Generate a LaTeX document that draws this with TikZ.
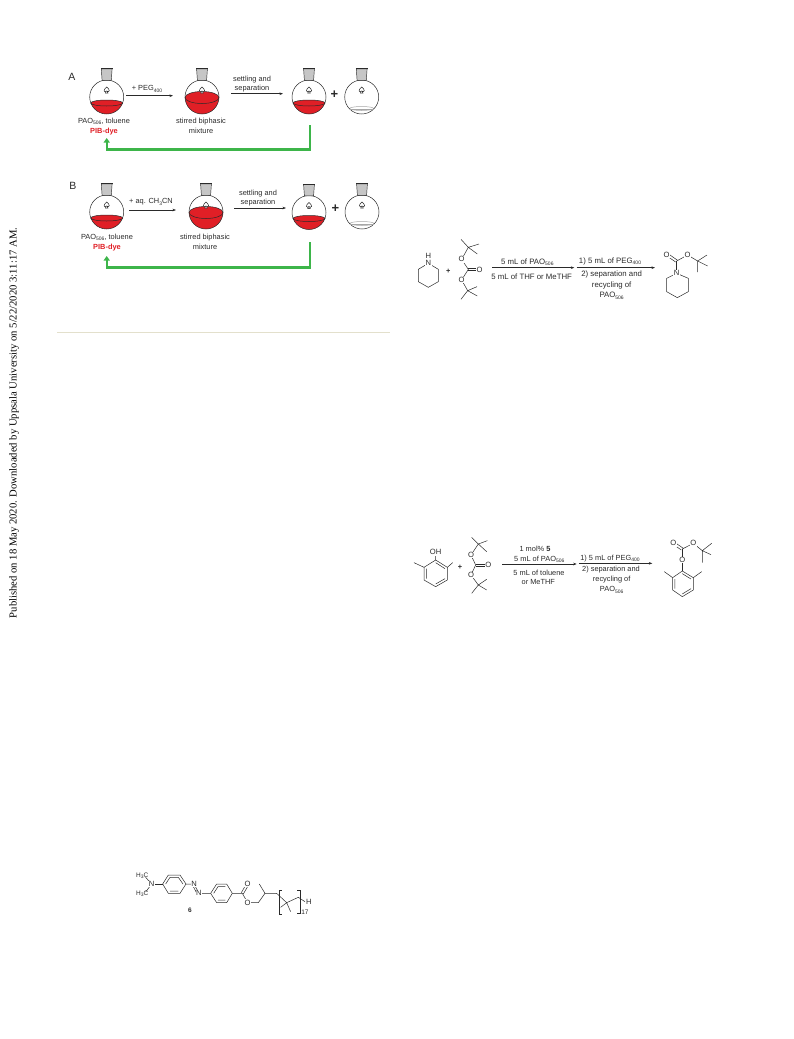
\documentclass[tikz,border=0pt]{standalone}
\usepackage{fontspec}
\setmainfont{Liberation Sans}
\newfontfamily\sidefont{Liberation Serif}
\usetikzlibrary{arrows.meta}
\definecolor{dyered}{HTML}{E01F26}
\definecolor{recyc}{HTML}{3DB54A}
\definecolor{rulecol}{HTML}{E3E0CC}
\definecolor{inkc}{HTML}{2A2A2A}
\newcommand{\sbs}[1]{\raisebox{-1.3pt}{\fontsize{5}{5}\selectfont #1}}
\tikzset{
  lbl/.style={font=\fontsize{7.4}{8}\selectfont,text=inkc,inner sep=0pt},
  lblb/.style={font=\fontsize{7.8}{8}\selectfont,text=inkc,inner sep=0pt},
  atom/.style={font=\fontsize{7.6}{8}\selectfont,text=inkc,inner sep=0.6pt,fill=white},
  redlbl/.style={font=\fontsize{7.4}{8}\selectfont\bfseries,text=dyered,inner sep=0pt},
  panel/.style={font=\fontsize{10.5}{11}\selectfont,text=inkc,inner sep=0pt},
  bigplus/.style={font=\fontsize{13}{13}\selectfont\bfseries,text=inkc,inner sep=0pt},
  rxn/.style={draw=inkc,line width=0.55pt,-{Stealth[length=3.5pt,width=2.6pt]}},
  loopback/.style={draw=recyc,line width=2.4pt,-{Triangle[length=4.5pt,width=6pt]}},
  bond/.style={draw=inkc,line width=0.5pt},
  glass/.style={draw=inkc,line width=0.5pt},
  pale/.style={draw=gray!70,line width=0.5pt},
  pics/flask/.style n args={5}{code={
    % #1 chord offset, #2 half width, #3 ellipse ry, #4 liquid colour, #5 ellipse line style
    \fill[white] (0,0) circle (17);
    \begin{scope}
      \clip (0,0) circle (17);
      \fill[#4] (-20,#1) rectangle (20,20);
      \fill[#4] (0,#1) ellipse (#2 and #3);
    \end{scope}
    \draw[#5] (0,#1) ellipse (#2 and #3);
    \draw[glass] (0,0) circle (17);
    \fill[gray!45,draw=inkc,line width=0.45pt] (-4.6,-16.6) -- (-5.4,-28) -- (5.4,-28) -- (4.6,-16.6) -- cycle;
    \draw[inkc,line width=0.7pt] (-5.8,-28.6) -- (5.8,-28.6);
    \draw[glass,fill=white] (0,-10) .. controls (-1,-8.6) and (-3,-8) .. (-2.6,-6.2)
        .. controls (-2.3,-5) and (-1,-5) .. (-0.5,-5.8) -- (-1.2,-4) -- (1.2,-4) -- (0.5,-5.8)
        .. controls (1,-5) and (2.3,-5) .. (2.6,-6.2) .. controls (3,-8) and (1,-8.6) .. (0,-10) -- cycle;
  }}
}
\begin{document}
\begin{tikzpicture}[x=1pt,y=-1pt]
\useasboundingbox (0,0) rectangle (793,1039);
\node[rotate=90,font=\sidefont\fontsize{10.65}{11}\selectfont,text=black,inner sep=0pt] (side) at (14,423) {Published on 18 May 2020. Downloaded by Uppsala University on 5/22/2020 3:11:17 AM.};

% ---- panel A
\node[panel] (pa) at (72,77) {A};
\pic at (106.7,97) {flask={6}{16}{3}{dyered}{glass}};
\pic at (202,97) {flask={0.5}{17}{6}{dyered}{glass}};
\pic at (309,97) {flask={6}{16}{3}{dyered}{glass}};
\pic at (361.7,97) {flask={11.5}{12}{2}{white}{pale}};
\draw[pale] (350,109.5) -- (373.5,109.5);
\coordinate (a1s) at (126,95.7); \coordinate (a1e) at (173,95.7);
\coordinate (a2s) at (231,93.7); \coordinate (a2e) at (283,93.7);
\draw[rxn] (a1s) -- (a1e);
\draw[rxn] (a2s) -- (a2e);
\node[lbl] (ta1) at (147,89) {+ PEG\sbs{400}};
\node[lbl] (ta2) at (252,80) {settling and};
\node[lbl] (ta3) at (252,89) {separation};
\node[bigplus] (pl1) at (334.5,95) {+};
\node[lbl] (ta4) at (104,121.5) {PAO\sbs{506}, toluene};
\node[redlbl] (ta5) at (104,131.5) {PIB-dye};
\node[lbl] (ta6) at (201,121.5) {stirred biphasic};
\node[lbl] (ta7) at (201,130.5) {mixture};
\coordinate (ga1) at (310,125); \coordinate (ga2) at (310,149.5); \coordinate (ga3) at (106.7,149.5); \coordinate (ga4) at (106.7,138);
\draw[loopback] (ga1) -- (ga2) -- (ga3) -- (ga4);

% ---- panel B
\node[panel] (pb) at (73,186) {B};
\pic at (106.7,212) {flask={6}{16}{3}{dyered}{glass}};
\pic at (206,212) {flask={0.5}{17}{6}{dyered}{glass}};
\pic at (309,212.5) {flask={6}{16}{3}{dyered}{glass}};
\pic at (362,212) {flask={11.5}{12}{2}{white}{pale}};
\draw[pale] (350.3,224.5) -- (373.7,224.5);
\coordinate (b1s) at (129,210); \coordinate (b1e) at (176,210);
\coordinate (b2s) at (234,208); \coordinate (b2e) at (286,208);
\draw[rxn] (b1s) -- (b1e);
\draw[rxn] (b2s) -- (b2e);
\node[lbl] (tb1) at (151,202) {+ aq. CH\sbs{3}CN};
\node[lbl] (tb2) at (258,194) {settling and};
\node[lbl] (tb3) at (258,203) {separation};
\node[bigplus] (pl2) at (335.5,209) {+};
\node[lbl] (tb4) at (107,237) {PAO\sbs{506}, toluene};
\node[redlbl] (tb5) at (107,247.5) {PIB-dye};
\node[lbl] (tb6) at (205,238) {stirred biphasic};
\node[lbl] (tb7) at (205,247) {mixture};
\coordinate (gb1) at (310,242); \coordinate (gb2) at (310,267.3); \coordinate (gb3) at (106.7,267.3); \coordinate (gb4) at (106.7,256);
\draw[loopback] (gb1) -- (gb2) -- (gb3) -- (gb4);

\coordinate (r1) at (57,332.3); \coordinate (r2) at (390,332.3);
\draw[rulecol,line width=1pt] (r1) -- (r2);

% ---- scheme 2 (1/3 px units)
\begin{scope}[shift={(405,230)},x=0.3333pt,y=-0.3333pt]
\draw[bond] (70,100) -- (100,118) -- (100,155) -- (70,172) -- (40,155) -- (40,118) -- cycle;
\draw[bond] (170,88) -- (190,118) -- (170,150);
\draw[bond] (190,116) -- (218,116) (190,122) -- (218,122);
\draw[bond] (170,88) -- (190,52) (190,52) -- (168,28) (190,52) -- (217,72) (190,52) -- (222,42);
\draw[bond] (170,150) -- (188,182) (188,182) -- (217,198) (188,182) -- (168,208) (188,182) -- (216,170);
\node[atom] (s2n) at (70,100) {N};
\node[atom,inner sep=0pt] (s2h) at (70,78) {H};
\node[atom] (s2o1) at (170,88) {O};
\node[atom] (s2o2) at (170,150) {O};
\node[atom] (s2o3) at (224,120) {O};
\node[lbl,font=\fontsize{7.4}{8}\selectfont\bfseries] (s2p) at (130,125) {+};
\coordinate (s2a) at (262,113); \coordinate (s2b) at (508,113); \coordinate (s2c) at (515,113); \coordinate (s2d) at (750,113);
\draw[rxn] (s2a) -- (s2b);
\draw[rxn] (s2c) -- (s2d);
\node[lblb] (s2t1) at (367,97) {5 mL of PAO\sbs{506}};
\node[lblb] (s2t2) at (380,140) {5 mL of THF or MeTHF};
\node[lblb] (s2t3) at (615,95) {1) 5 mL of PEG\sbs{400}};
\node[lblb] (s2t4) at (620,133) {2) separation and};
\node[lblb] (s2t5) at (620,165) {recycling of};
\node[lblb] (s2t6) at (620,197) {PAO\sbs{506}};
\draw[bond] (850,145) -- (850,185) -- (817,203) -- (785,185) -- (785,145) -- (815,130) -- cycle;
\draw[bond] (815,130) -- (815,93);
\draw[bond] (812,96) -- (786,78) (818,91) -- (792,73);
\draw[bond] (815,93) -- (848,75) -- (878,93) (878,93) -- (906,75) (878,93) -- (908,108) (878,93) -- (878,126);
\node[atom] (s2n2) at (815,130) {N};
\node[atom] (s2o4) at (785,75) {O};
\node[atom] (s2o5) at (848,75) {O};
\end{scope}

% ---- scheme 3
\begin{scope}[shift={(405,530)},x=0.3333pt,y=-0.3333pt]
\draw[bond] (92,90) -- (127,112) -- (127,150) -- (92,170) -- (57,150) -- (57,112) -- cycle;
\draw[bond] (64,116) -- (64,146) (92,162) -- (120,146) (92,98) -- (120,116);
\draw[bond] (92,90) -- (92,72) (57,112) -- (27,98) (127,112) -- (143,98);
\node[atom] (s3oh) at (92,67) {OH};
\node[lbl,font=\fontsize{7.4}{8}\selectfont\bfseries] (s3p) at (165,112) {+};
\draw[bond] (198,75) -- (212,105) -- (198,135);
\draw[bond] (212,102) -- (245,102) (212,108) -- (245,108);
\draw[bond] (198,75) -- (220,42) (220,42) -- (200,22) (220,42) -- (245,65) (220,42) -- (247,32);
\draw[bond] (198,135) -- (220,165) (220,165) -- (245,180) (220,165) -- (200,190) (220,165) -- (245,148);
\node[atom] (s3o1) at (198,75) {O};
\node[atom] (s3o2) at (198,135) {O};
\node[atom] (s3o3) at (250,105) {O};
\coordinate (s3a) at (292,102); \coordinate (s3b) at (515,102); \coordinate (s3c) at (522,100); \coordinate (s3d) at (742,100);
\draw[rxn] (s3a) -- (s3b);
\draw[rxn] (s3c) -- (s3d);
\node[lbl] (s3t1) at (390,58) {1 mol\% \textbf{5}};
\node[lbl] (s3t2) at (403,87) {5 mL of PAO\sbs{506}};
\node[lbl] (s3t3) at (402,128) {5 mL of toluene};
\node[lbl] (s3t4) at (400,155) {or MeTHF};
\node[lbl] (s3t5) at (615,85) {1) 5 mL of PEG\sbs{400}};
\node[lbl] (s3t6) at (618,120) {2) separation and};
\node[lbl] (s3t7) at (620,150) {recycling of};
\node[lbl] (s3t8) at (620,180) {PAO\sbs{506}};
\draw[bond] (832,123) -- (865,143) -- (865,180) -- (832,200) -- (803,180) -- (803,143) -- cycle;
\draw[bond] (810,147) -- (810,176) (832,192) -- (858,176) (832,131) -- (858,147);
\draw[bond] (832,123) -- (832,90) -- (832,57);
\draw[bond] (829,60) -- (806,44) (835,55) -- (812,39);
\draw[bond] (832,57) -- (865,40) -- (892,62) (892,62) -- (920,40) (892,62) -- (918,74) (892,62) -- (892,98);
\draw[bond] (803,143) -- (778,125) (865,143) -- (890,125);
\node[atom] (s3o4) at (805,40) {O};
\node[atom] (s3o5) at (865,40) {O};
\node[atom] (s3o6) at (832,90) {O};
\end{scope}

% ---- compound 6
\begin{scope}[shift={(125,860)},x=0.3333pt,y=-0.3333pt]
\draw[bond] (62,52) -- (80,72) -- (62,96);
\draw[bond] (80,72) -- (113,72);
\draw[bond] (113,72) -- (130,45) -- (165,45) -- (183,72) -- (165,100) -- (130,100) -- cycle;
\draw[bond] (122,72) -- (135,52) (160,52) -- (135,52) (174,72) -- (160,52) (135,93) -- (160,93);
\draw[bond] (183,72) -- (207,72) -- (222,100) -- (257,100);
\draw[bond] (204,78) -- (214,97);
\draw[bond] (257,100) -- (275,72) -- (305,72) -- (322,100) -- (305,128) -- (275,128) -- cycle;
\draw[bond] (266,100) -- (279,80) (279,80) -- (301,80) (279,120) -- (301,120);
\draw[bond] (322,100) -- (352,100) -- (368,128) -- (400,128) -- (420,100) -- (403,72);
\draw[bond] (349,98) -- (364,72) (355,102) -- (370,76);
\draw[bond] (420,100) -- (455,100) -- (485,128) -- (520,112) -- (540,125);
\draw[bond] (485,128) -- (467,142) (485,128) -- (497,155);
\draw[bond] (470,92) -- (462,92) -- (462,162) -- (470,162);
\draw[bond] (517,90) -- (525,90) -- (525,160) -- (517,160);
\node[atom] (c6n) at (80,72) {N};
\node[atom] (c6n1) at (207,72) {N};
\node[atom] (c6n2) at (222,100) {N};
\node[atom] (c6o1) at (368,72) {O};
\node[atom] (c6o2) at (368,128) {O};
\node[atom] (c6h) at (552,125) {H};
\node[lbl,font=\fontsize{6.5}{7}\selectfont] (c6m1) at (52,47) {H\sbs{3}C};
\node[lbl,font=\fontsize{6.5}{7}\selectfont] (c6m2) at (52,102) {H\sbs{3}C};
\node[lbl] (c6c) at (540,158) {\fontsize{6.5}{7}\selectfont 17};
\node[lbl,font=\fontsize{6.5}{7}\selectfont\bfseries] (c6l) at (195,150) {6};
\end{scope}
\end{tikzpicture}
\end{document}
